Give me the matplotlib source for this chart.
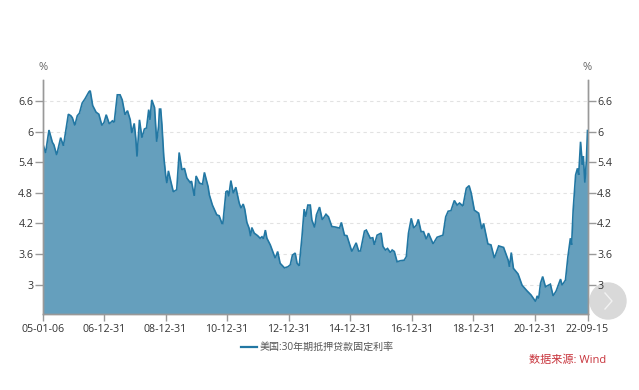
import matplotlib
matplotlib.use('Agg')
import matplotlib.pyplot as plt
from matplotlib.lines import Line2D
from matplotlib.patches import Ellipse

plt.rcParams['font.family'] = ['Open Sans', 'Noto Sans CJK SC', 'DejaVu Sans']

# decimal years
years = [2005.016, 2005.10, 2005.21, 2005.32, 2005.37, 2005.46, 2005.59, 2005.68, 2005.84, 2005.92,
         2005.97, 2006.05, 2006.13, 2006.20, 2006.29, 2006.38, 2006.51, 2006.55, 2006.63, 2006.74,
         2006.83, 2006.93, 2007.00, 2007.07, 2007.17, 2007.27, 2007.33, 2007.43, 2007.52, 2007.59,
         2007.68, 2007.76, 2007.85, 2007.90, 2007.98, 2008.03, 2008.07, 2008.15, 2008.23, 2008.31,
         2008.38, 2008.45, 2008.49, 2008.55, 2008.64, 2008.71, 2008.77, 2008.80, 2008.84, 2008.88,
         2008.94, 2009.006, 2009.04, 2009.09, 2009.17, 2009.25, 2009.36, 2009.44, 2009.53, 2009.61,
         2009.69, 2009.80, 2009.84, 2009.93, 2009.99, 2010.10, 2010.20, 2010.26, 2010.38, 2010.42,
         2010.52, 2010.66, 2010.74, 2010.83, 2010.86, 2010.96, 2011.01, 2011.05, 2011.12, 2011.20,
         2011.28, 2011.39, 2011.45, 2011.52, 2011.57, 2011.64, 2011.71, 2011.76, 2011.80, 2011.88,
         2011.99, 2012.07, 2012.13, 2012.18, 2012.24, 2012.29, 2012.40, 2012.56, 2012.64, 2012.72,
         2012.86, 2012.97, 2013.05, 2013.12, 2013.21, 2013.27, 2013.34, 2013.43, 2013.50, 2013.55,
         2013.62, 2013.70, 2013.75, 2013.84, 2013.90, 2014.00, 2014.09, 2014.21, 2014.29, 2014.40,
         2014.51, 2014.65, 2014.71, 2014.81, 2014.89, 2015.05, 2015.19, 2015.27, 2015.33, 2015.46,
         2015.52, 2015.65, 2015.73, 2015.78, 2015.87, 2016.00, 2016.06, 2016.14, 2016.21, 2016.30,
         2016.36, 2016.43, 2016.52, 2016.63, 2016.75, 2016.82, 2016.89, 2016.98, 2017.06, 2017.15,
         2017.21, 2017.30, 2017.38, 2017.47, 2017.54, 2017.69, 2017.82, 2018.01, 2018.10, 2018.18,
         2018.27, 2018.38, 2018.47, 2018.55, 2018.66, 2018.77, 2018.86, 2018.93, 2019.03, 2019.17,
         2019.27, 2019.33, 2019.47, 2019.57, 2019.68, 2019.82, 2019.98, 2020.13, 2020.17, 2020.23,
         2020.30, 2020.45, 2020.58, 2020.74, 2020.87, 2021.02, 2021.07, 2021.12, 2021.18, 2021.25,
         2021.34, 2021.50, 2021.59, 2021.69, 2021.83, 2021.88, 2021.99, 2022.07, 2022.15, 2022.19,
         2022.24, 2022.32, 2022.38, 2022.42, 2022.48, 2022.54, 2022.57, 2022.62, 2022.67, 2022.706]

rates = [5.75, 5.58, 6.03, 5.79, 5.74, 5.54, 5.88, 5.72, 6.34, 6.31,
         6.27, 6.12, 6.31, 6.36, 6.56, 6.64, 6.78, 6.80, 6.51, 6.38,
         6.34, 6.12, 6.18, 6.33, 6.15, 6.21, 6.18, 6.72, 6.72, 6.62,
         6.33, 6.41, 6.23, 5.97, 6.16, 5.87, 5.51, 6.23, 5.88, 6.05,
         6.07, 6.43, 6.23, 6.62, 6.47, 5.80, 6.10, 6.44, 6.44, 6.13,
         5.51, 5.12, 4.99, 5.23, 5.02, 4.82, 4.86, 5.59, 5.25, 5.28,
         5.09, 5.00, 5.03, 4.74, 5.13, 4.99, 4.97, 5.20, 4.92, 4.76,
         4.56, 4.37, 4.35, 4.20, 4.20, 4.82, 4.84, 4.73, 5.04, 4.79,
         4.91, 4.60, 4.50, 4.58, 4.48, 4.22, 4.11, 3.95, 4.12, 4.01,
         3.96, 3.91, 3.94, 3.90, 4.07, 3.91, 3.78, 3.52, 3.65, 3.42,
         3.33, 3.35, 3.39, 3.58, 3.62, 3.42, 3.37, 3.94, 4.48, 4.33,
         4.56, 4.56, 4.27, 4.12, 4.37, 4.52, 4.27, 4.38, 4.33, 4.14,
         4.13, 4.11, 4.22, 3.97, 3.96, 3.65, 3.82, 3.66, 3.66, 4.05,
         4.07, 3.91, 3.92, 3.78, 3.97, 4.01, 3.75, 3.68, 3.71, 3.63,
         3.68, 3.65, 3.45, 3.47, 3.48, 3.55, 4.01, 4.30, 4.11, 4.17,
         4.28, 4.04, 4.04, 3.89, 4.01, 3.80, 3.93, 3.97, 4.33, 4.44,
         4.45, 4.65, 4.56, 4.60, 4.54, 4.89, 4.94, 4.79, 4.46, 4.40,
         4.09, 4.20, 3.80, 3.78, 3.52, 3.76, 3.73, 3.48, 3.35, 3.63,
         3.32, 3.21, 2.99, 2.88, 2.80, 2.67, 2.78, 2.73, 3.03, 3.16,
         2.96, 3.01, 2.78, 2.88, 3.11, 2.99, 3.09, 3.55, 3.91, 3.78,
         4.46, 5.15, 5.28, 5.15, 5.80, 5.35, 5.52, 5.00, 5.44, 6.02]

x_ticks = [2005.016, 2006.997, 2008.997, 2010.997, 2012.997, 2014.997, 2016.997, 2018.997, 2020.997, 2022.706]
x_labels = ['05-01-06', '06-12-31', '08-12-31', '10-12-31', '12-12-31',
            '14-12-31', '16-12-31', '18-12-31', '20-12-31', '22-09-15']
y_ticks = [3, 3.6, 4.2, 4.8, 5.4, 6, 6.6]
y_labels = ['3', '3.6', '4.2', '4.8', '5.4', '6', '6.6']

LINE = '#2277a3'
FILL = '#659fbd'
AXIS = '#999999'
TEXT = '#333333'

fig = plt.figure(figsize=(6.39, 3.9), dpi=100)
ax = fig.add_axes([43 / 639, 76 / 390, 544.5 / 639, 234 / 390])

ax.fill_between(years, rates, 2.426, color=FILL, lw=0, zorder=2)
ax.plot(years, rates, color=LINE, lw=1.2, zorder=3, solid_joinstyle='miter')

ax.set_xlim(2005.016, 2022.706)
ax.set_ylim(2.426, 7.01)
ax.grid(axis='y', color='#e2e2e2', ls=(0, (3, 3)), lw=0.8, zorder=1)

ax.set_xticks(x_ticks)
ax.set_xticklabels(x_labels)
ax.set_yticks(y_ticks)
ax.set_yticklabels(y_labels)
ax.tick_params(axis='x', length=5, width=1, color=AXIS, labelcolor=TEXT, labelsize=7.7, pad=2)
ax.tick_params(axis='y', length=6, width=1, color=AXIS, labelcolor=TEXT, labelsize=7.7, pad=1)

ax2 = ax.twinx()
ax2.set_ylim(ax.get_ylim())
ax2.set_yticks(y_ticks)
ax2.set_yticklabels(y_labels)
ax2.tick_params(axis='y', length=6, width=1, color=AXIS, labelcolor=TEXT, labelsize=7.7, pad=1)

for a in (ax, ax2):
    a.spines['top'].set_visible(False)
    for s in ('left', 'right', 'bottom'):
        a.spines[s].set_color(AXIS)
        a.spines[s].set_linewidth(1)

fig.text(43 / 639, 1 - 67 / 390, '%', color='#666666', fontsize=8, ha='center', va='center')
fig.text(587.5 / 639, 1 - 67 / 390, '%', color='#666666', fontsize=8, ha='center', va='center')

# legend
fig.add_artist(Line2D([241 / 639, 257 / 639], [1 - 347 / 390] * 2, color=LINE, lw=1.6))
fig.text(260 / 639, 1 - 347 / 390, '美国:30年期抵押贷款固定利率', color='#555555', fontsize=7.2, va='center')

# source note
fig.text(529 / 639, 1 - 361 / 390, '数据来源: Wind', color='#c8343c', fontsize=8, va='center')

# next button, sits under the right tick labels
fig.add_artist(Ellipse((608 / 639, 1 - 301 / 390), 36 / 639, 36 / 390, color='#d9d9d9',
                       transform=fig.transFigure, zorder=-1))
fig.add_artist(Line2D([605 / 639, 612 / 639, 605 / 639],
                      [1 - 293 / 390, 1 - 301 / 390, 1 - 309 / 390],
                      color='#f2f2f2', lw=1, zorder=6))

fig.savefig('out.png', dpi=100)
